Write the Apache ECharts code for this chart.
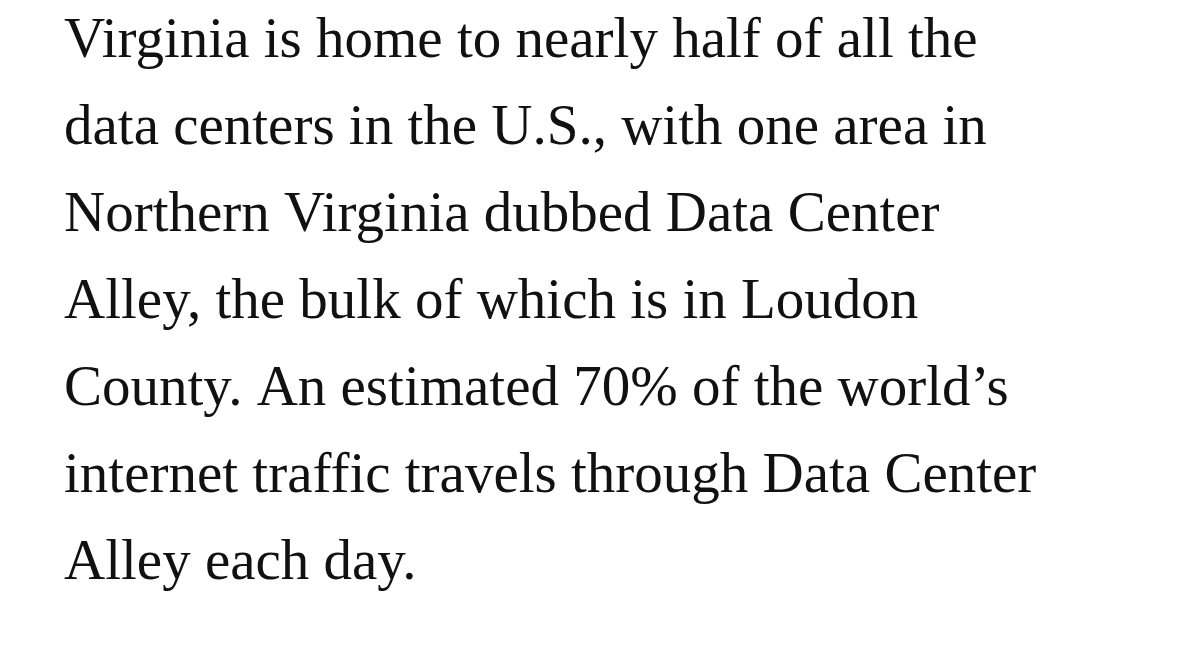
<!DOCTYPE html>
<html><head><meta charset="utf-8">
<script src="https://cdn.jsdelivr.net/npm/echarts@6/dist/echarts.min.js"></script>
<style>html,body{margin:0;padding:0;background:#fff;}#c{width:1179px;height:648px;}</style>
</head><body><div id="c"></div>
<script>
const lines = [
  "Virginia is home to nearly half of all the",
  "data centers in the U.S., with one area in",
  "Northern Virginia dubbed Data Center",
  "Alley, the bulk of which is in Loudon",
  "County. An estimated 70% of the world\u2019s",
  "internet traffic travels through Data Center",
  "Alley each day."
];
const chart = echarts.init(document.getElementById('c'), null, {renderer: 'canvas'});
chart.setOption({
  backgroundColor: '#ffffff',
  graphic: lines.map((t, i) => ({
    type: 'text',
    left: 64,
    top: 14 + i * 87,
    style: {
      text: t,
      fill: '#111111',
      font: '57px "Liberation Serif", "DejaVu Serif", serif'
    }
  }))
});
</script></body></html>
